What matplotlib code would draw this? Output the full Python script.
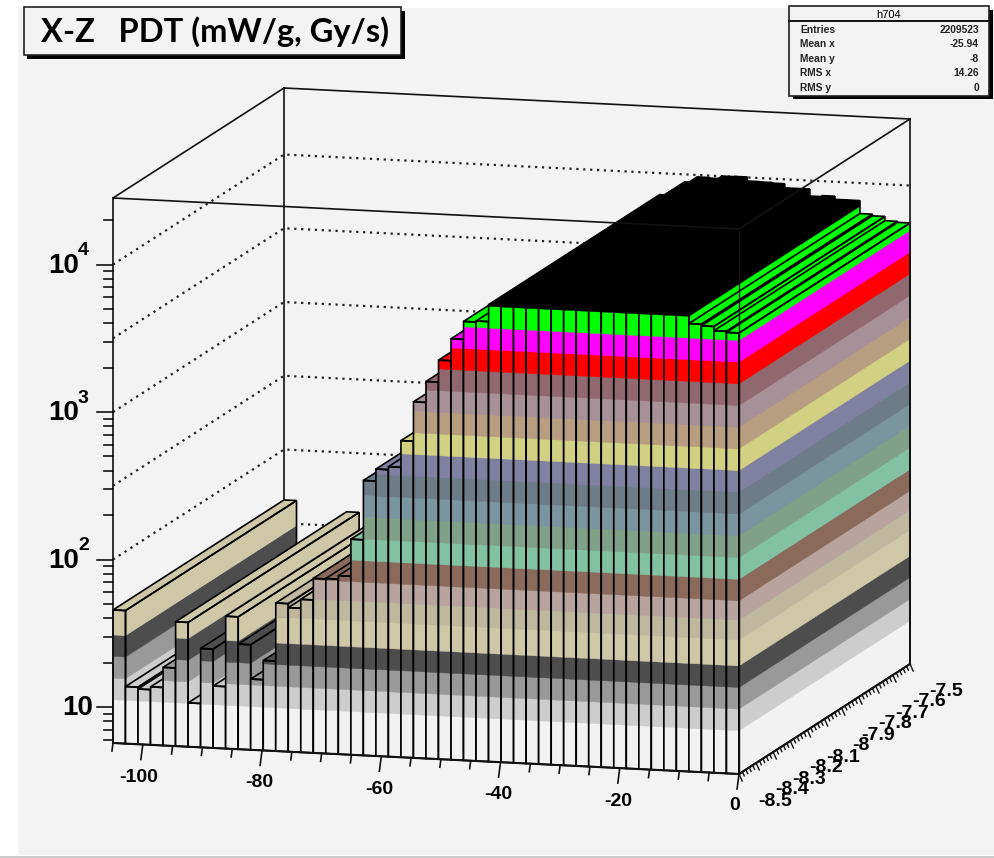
import numpy as np
import matplotlib
matplotlib.use("Agg")
import matplotlib.pyplot as plt
from matplotlib.patches import Polygon, Rectangle

plt.rcParams['font.family'] = ['Liberation Sans', 'DejaVu Sans']

# bar contents, one per x bin, from -105 to 0
bin_values = [45.5, 13.9, 13.5, 14.1, 19.3, 39.7, 11.3, 26.7, 15.0, 45.0,
              29.4, 17.2, 23.2, 57.5, 54.0, 62.1, 87.0, 87.6, 92.5, 165,
              417, 503, 527, 799, 1479, 2051, 2891, 4074, 5395, 5483,
              7145, 7727, 8892, 9700, 9616, 10023, 10069, 9462, 9419, 9333,
              8750, 8750, 7852, 7980, 7603, 7603, 6209, 6053, 5662, 5572]

# colour levels of the lego plot
levels = [11.2, 15.7, 22, 30.8, 46.2, 63, 85.1, 119, 167, 235,
          330, 463, 650, 912, 1279, 1795, 2518, 3532, 4955, 6950]
level_colors = ['#f2f2f2', '#cdcdcd', '#999999', '#4d4d4d', '#cec8a8', '#bfb89e', '#b8a49c',
                '#8a6a5b', '#82c2a2', '#80a088', '#7a94a0', '#6c7c88', '#8080a0', '#d2d082',
                '#b89e80', '#a89098', '#906870', '#ff0000', '#ff00ff', '#00ff00', '#000000']

x_major = [-100, -80, -60, -40, -20, 0]
y_major = [-8.5, -8.4, -8.3, -8.2, -8.1, -8, -7.9, -7.8, -7.7, -7.6, -7.5]
y_labels = ['-8.5', '-8.4', '-8.3', '-8.2', '-8.1', '-8', '-7.9', '-7.8', '-7.7', '-7.6', '-7.5']
z_labels = [(10, ''), (100, '2'), (1000, '3'), (10000, '4')]
stats = [('Entries', '2209523'), ('Mean x', '-25.94'), ('Mean y', '-8'),
         ('RMS x', '14.26'), ('RMS y', '0')]

xmin, xmax = -105.0, 0.0
ymin, ymax = -8.5, -7.5
zmin, zmax = 5.7, 28250.0


# oblique projection of the cube on the pad (pixels)
def proj(x, y, z):
    fx = (x - xmin) / (xmax - xmin)
    fy = (y - ymin) / (ymax - ymin)
    fz = (np.log10(z) - np.log10(zmin)) / (np.log10(zmax) - np.log10(zmin))
    return (113 + 626 * fx + 171 * fy, 743 + 31 * fx - 110 * fy - 545 * fz)


fig = plt.figure(figsize=(9.95, 8.58), dpi=100, facecolor='white')
ax = fig.add_axes([0, 0, 1, 1])
ax.set_xlim(0, 995)
ax.set_ylim(858, 0)
ax.axis('off')

ax.add_patch(Rectangle((18, 8), 977, 847, fc='#f3f3f3', ec='none', zorder=0))
ax.plot([0, 995], [856.5, 856.5], color='#c8c8c8', lw=2, zorder=0)


def line(p, q, **kw):
    kw.setdefault('color', '#111111')
    kw.setdefault('lw', 1.2)
    ax.plot([p[0], q[0]], [p[1], q[1]], solid_capstyle='projecting', **kw)


# back frame and grid, all behind the bars
line(proj(xmin, ymax, zmin), proj(xmin, ymax, zmax), zorder=0.5)
line(proj(xmin, ymax, zmax), proj(xmax, ymax, zmax), zorder=0.5)
line(proj(xmin, ymin, zmax), proj(xmin, ymax, zmax), zorder=0.5)
for e in [1, 1.5, 2, 2.5, 3, 3.5, 4]:
    g = 10.0 ** e
    pts = [proj(xmin, ymin, g), proj(xmin, ymax, g), proj(xmax, ymax, g)]
    ax.plot([p[0] for p in pts], [p[1] for p in pts], color='#222222', lw=1.6,
            dashes=(1, 2.1), zorder=0.5)


def fill(pts, color):
    ax.add_patch(Polygon(pts, closed=True, fc=color, ec=color, lw=0.3, zorder=1))


def outline(pts):
    ax.add_patch(Polygon(pts, closed=True, fc='none', ec='#000000', lw=1.2,
                         joinstyle='miter', zorder=1))


# the bars, left to right so that the nearer ones cover the others
edges = np.linspace(xmin, xmax, len(bin_values) + 1)
bounds = [zmin] + levels + [zmax]
for i, v in enumerate(bin_values):
    x0, x1 = edges[i], edges[i + 1]
    top_color = level_colors[-1]
    for k, c in enumerate(level_colors):
        lo, hi = bounds[k], min(bounds[k + 1], v)
        if lo >= v:
            break
        top_color = c
        fill([proj(x1, ymin, lo), proj(x1, ymax, lo), proj(x1, ymax, hi), proj(x1, ymin, hi)], c)
        fill([proj(x0, ymin, lo), proj(x1, ymin, lo), proj(x1, ymin, hi), proj(x0, ymin, hi)], c)
    top = [proj(x0, ymin, v), proj(x1, ymin, v), proj(x1, ymax, v), proj(x0, ymax, v)]
    fill(top, top_color)
    outline(top)
    outline([proj(x0, ymin, zmin), proj(x1, ymin, zmin), proj(x1, ymin, v), proj(x0, ymin, v)])
    outline([proj(x1, ymin, zmin), proj(x1, ymax, zmin), proj(x1, ymax, v), proj(x1, ymin, v)])

# front frame
line(proj(xmin, ymin, zmin), proj(xmin, ymin, zmax))
line(proj(xmin, ymin, zmax), proj(xmax, ymin, zmax))
line(proj(xmax, ymin, zmax), proj(xmax, ymax, zmax))
line(proj(xmax, ymax, zmin), proj(xmax, ymax, zmax))
line(proj(xmax, ymin, zmin), proj(xmax, ymin, zmax), lw=1.0)
line(proj(xmin, ymin, zmin), proj(xmax, ymin, zmin), lw=1.5)
line(proj(xmax, ymin, zmin), proj(xmax, ymax, zmin), lw=1.5)

# x axis
for t in np.arange(-105, 1, 5):
    px, py = proj(t, ymin, zmin)
    length = 15 if t in x_major else 8
    line((px, py), (px - length * 0.13, py + length))
for t, (dx, dy) in zip(x_major, [(-4, 33), (-3, 32), (-2, 33), (-2, 32), (-2, 33), (-4, 31)]):
    px, py = proj(t, ymin, zmin)
    ax.text(px + dx, py + dy, str(t), ha='center', va='center', fontsize=14,
            fontweight='bold')

# y axis
for t in np.arange(0, 50 + 1):
    px, py = proj(xmax, ymin + t * 0.02, zmin)
    length = 7 if t % 5 == 0 else 4
    line((px, py), (px + length * 0.45, py + length), lw=1.0)
for t, lab in zip(y_major, y_labels):
    px, py = proj(xmax, t, zmin)
    ax.text(px + 36, py + 27, lab, ha='center', va='center', fontsize=14, fontweight='bold')

# z axis, log scale
for e in [0, 1, 2, 3, 4]:
    for m in range(1, 10):
        g = m * 10.0 ** e
        if g < zmin or g > zmax:
            continue
        px, py = proj(xmin, ymin, g)
        length = 16 if m == 1 else 9
        line((px - length, py), (px, py))
for g, sup in z_labels:
    px, py = proj(xmin, ymin, g)
    if sup:
        ax.text(px - 65, py + 1, '10', ha='left', va='center', fontsize=20, fontweight='bold')
        ax.text(px - 35, py - 14, sup, ha='left', va='center', fontsize=14, fontweight='bold')
    else:
        ax.text(px - 51, py + 1, '10', ha='left', va='center', fontsize=20, fontweight='bold')

# title box
ax.add_patch(Rectangle((27, 11), 378, 48, fc='#000000', ec='none', zorder=5))
ax.add_patch(Rectangle((24, 7), 377, 48, fc='#f3f3f3', ec='#222222', lw=1.2, zorder=6))
ax.text(41, 32, 'X-Z   PDT (mW/g, Gy/s)', ha='left', va='center', fontsize=23.5,
        fontweight='bold', family=['Lato', 'Liberation Sans'], zorder=7)

# stats box
ax.add_patch(Rectangle((793, 10), 200, 89, fc='#000000', ec='none', zorder=5))
ax.add_patch(Rectangle((789, 6), 200, 90, fc='#f3f3f3', ec='#222222', lw=1.2, zorder=6))
ax.plot([789, 989], [21, 21], color='#111111', lw=1.4, zorder=7)
ax.text(889, 15, 'h704', ha='center', va='center', fontsize=8, zorder=7)
for r, (name, val) in enumerate(stats):
    yy = 30 + r * 14.4
    ax.text(800, yy, name, ha='left', va='center', fontsize=7.4, fontweight='bold', color='#222222', zorder=7)
    ax.text(979, yy, val, ha='right', va='center', fontsize=7.4, fontweight='bold', color='#222222', zorder=7)

fig.savefig('out.png', dpi=100, facecolor='white')
